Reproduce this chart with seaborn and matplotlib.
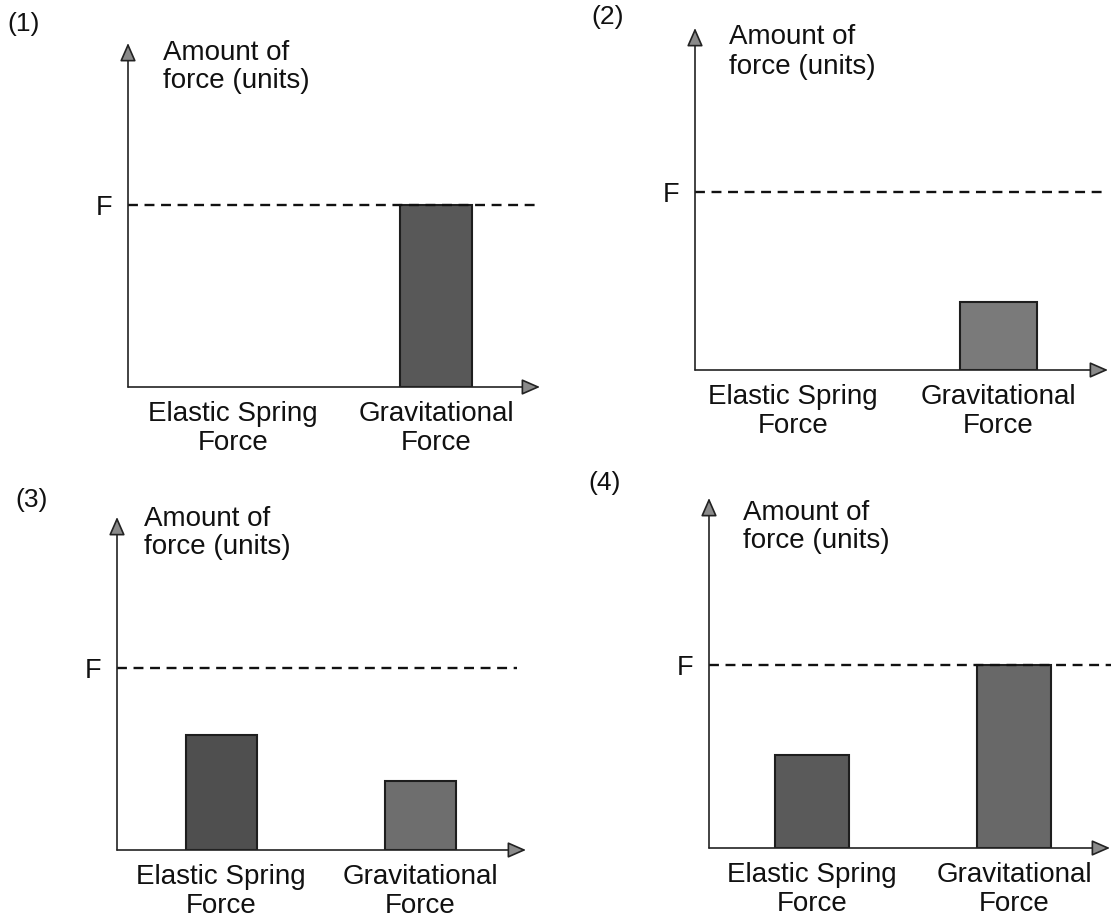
import pandas as pd
import seaborn as sns
import matplotlib.pyplot as plt

W, H = 1111, 918

categories = ["Elastic Spring\nForce", "Gravitational\nForce"]
panel_tags = ["(1)", "(2)", "(3)", "(4)"]
elastic_force = [0.0, 0.0, 0.63, 0.51]
gravitational_force = [1.0, 0.38, 0.38, 1.0]
f_level = 1.0
f_label = "F"
y_title = "Amount of\nforce (units)"

# pixel layout of each panel: axis box, y of F line, category centres
layout = [
    dict(l=128, r=540, t=43, b=387, fy=205, c0=233, c1=436, bw=72, dash=535, tag=(24, 24), title=(163, 67)),
    dict(l=695, r=1108, t=28, b=370, fy=192, c0=793, c1=998, bw=77, dash=1102, tag=(608, 17), title=(729, 52)),
    dict(l=117, r=526, t=517, b=850, fy=668, c0=221, c1=420, bw=71, dash=517, tag=(32, 500), title=(144, 533)),
    dict(l=709, r=1110, t=498, b=848, fy=665, c0=812, c1=1014, bw=74, dash=1111, tag=(605, 483), title=(743, 527)),
]
bar_colors = [("#5a5a5a", "#585858"), ("#7a7a7a", "#7a7a7a"),
              ("#4f4f4f", "#6e6e6e"), ("#5a5a5a", "#686868")]

sns.set_theme(style="white")
plt.rcParams["font.family"] = ["Liberation Sans", "DejaVu Sans"]

fig = plt.figure(figsize=(W / 100, H / 100), dpi=100)

for i, p in enumerate(layout):
    ax = fig.add_axes([p["l"] / W, 1 - p["b"] / H, (p["r"] - p["l"]) / W, (p["b"] - p["t"]) / H])
    df = pd.DataFrame({"force": categories, "amount": [elastic_force[i], gravitational_force[i]]})
    spacing = p["c1"] - p["c0"]
    sns.barplot(data=df, x="force", y="amount", hue="force", palette=list(bar_colors[i]),
                width=p["bw"] / spacing, edgecolor="#1e1e1e", linewidth=1.5,
                saturation=1, legend=False, ax=ax)
    for bar in ax.patches:
        if bar.get_height() == 0:
            bar.set_visible(False)

    ax.set_xlim(-(p["c0"] - p["l"]) / spacing, 1 + (p["r"] - p["c1"]) / spacing)
    ax.set_ylim(0, (p["b"] - p["t"]) / (p["b"] - p["fy"]))
    ax.axhline(f_level, xmin=0, xmax=(p["dash"] - p["l"]) / (p["r"] - p["l"]),
               ls=(0, (4.2, 2.8)), color="#111111", lw=1.7, clip_on=False)

    ax.set_yticks([f_level])
    ax.set_yticklabels([f_label])
    ax.tick_params(axis="y", length=5, width=1.1, direction="in", pad=11, labelsize=19.5, colors="#111111")
    ax.tick_params(axis="x", length=0, pad=10, labelsize=20, colors="#111111")
    for lbl in ax.get_xticklabels():
        lbl.set_linespacing(1.15)
    ax.set_xlabel("")
    ax.set_ylabel("")
    for s in ax.spines.values():
        s.set_visible(False)

    arrow = dict(arrowstyle="-|>,head_length=0.8,head_width=0.35", fc="#8a8a8a", ec="#222222",
                 lw=1.2, shrinkA=0, shrinkB=0, mutation_scale=14)
    ax.annotate("", xy=(0, 1), xytext=(0, 0), xycoords="axes fraction", arrowprops=arrow)
    ax.annotate("", xy=(1, 0), xytext=(0, 0), xycoords="axes fraction", arrowprops=arrow)

    tx, ty = p["title"]
    fig.text(tx / W, 1 - ty / H, y_title, ha="left", va="center", fontsize=20,
             linespacing=1.15, color="#111111")
    gx, gy = p["tag"]
    fig.text(gx / W, 1 - gy / H, panel_tags[i], ha="center", va="center", fontsize=19, color="#111111")

fig.savefig("out.png", dpi=100)
